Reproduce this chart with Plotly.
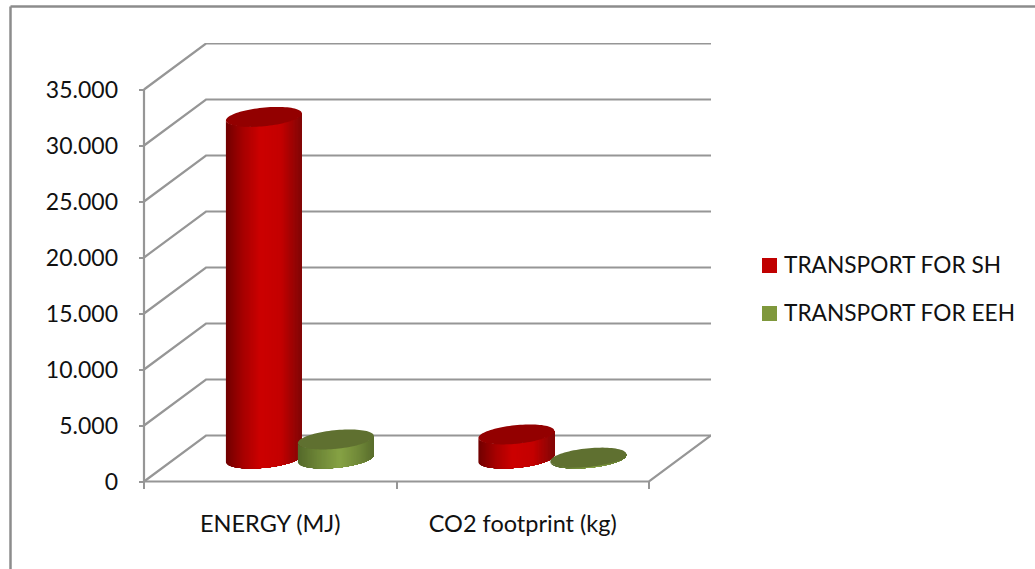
import numpy as np
import plotly.graph_objects as go

# Chart data
categories = ["ENERGY (MJ)", "CO2 footprint (kg)"]
series_names = ["TRANSPORT FOR SH", "TRANSPORT FOR EEH"]
series_colors = ["#c00000", "#7f983c"]
transport_sh = [30500, 2150]
transport_eeh = [1700, 80]
y_ticks = [0, 5000, 10000, 15000, 20000, 25000, 30000, 35000]
y_tick_labels = ["0", "5.000", "10.000", "15.000", "20.000", "25.000", "30.000", "35.000"]

# Scale of the axes, in pixels per axis unit
PX_PER_CAT = 252.5
PX_PER_VALUE = 0.0112

# Oblique projection of the pseudo-3D box, in axis units per unit of depth
DEPTH_X = 62 / PX_PER_CAT
DEPTH_Y = 46 / PX_PER_VALUE
GRID = "#969696"
FONT = "Lato"

# Plot area; it reaches a little past the zero lines so the box edges stay whole
W, H = 1035, 569
L, R, T, B = 139, 711, 43, 489
ZERO_X, ZERO_Y = 144, 481.5
X_RANGE = [(L - ZERO_X) / PX_PER_CAT, (R - ZERO_X) / PX_PER_CAT]
Y_RANGE = [(ZERO_Y - B) / PX_PER_VALUE, (ZERO_Y - T) / PX_PER_VALUE]


def project(cat, depth, value):
    return cat + depth * DEPTH_X, value + depth * DEPTH_Y


def mix(stops, f):
    pos = [s[0] for s in stops]
    rgb = [int(round(np.interp(f, pos, [s[1][i] for s in stops]))) for i in range(3)]
    return f"rgb({rgb[0]},{rgb[1]},{rgb[2]})"


RED_STOPS = [(0, (112, 0, 0)), (0.22, (165, 0, 0)), (0.45, (204, 0, 0)),
             (0.72, (196, 0, 0)), (1, (128, 6, 6))]
GREEN_STOPS = [(0, (84, 104, 42)), (0.25, (108, 132, 54)), (0.55, (134, 162, 68)),
               (0.8, (112, 136, 56)), (1, (88, 108, 44))]
RED_TOP = "#930000"
GREEN_TOP = "#5f7030"

# Cylinder footprint on the floor
RADIUS_CAT = 0.1406
RADIUS_DEPTH = 0.217
MID_DEPTH = 0.5
OFFSETS = [-0.148, 0.137]  # series offset from the centre of each category
PHASE = np.arctan2(DEPTH_X * RADIUS_DEPTH, RADIUS_CAT)

fig = go.Figure()


def add_line(xs, ys):
    fig.add_trace(go.Scatter(x=xs, y=ys, mode="lines", line=dict(color=GRID, width=2.2),
                             hoverinfo="skip", showlegend=False))


# Walls and floor of the box
for v in y_ticks:
    x0, y0 = project(0, 0, v)
    x1, y1 = project(0, 1, v)
    x2, y2 = project(2, 1, v)
    add_line([x0, x1, x2], [y0, y1, y2])
add_line([0, 0], [0, 35000])
add_line([0, 2, project(2, 1, 0)[0]], [0, 0, project(2, 1, 0)[1]])


def ring(cat, value, angles):
    u = RADIUS_CAT * np.cos(angles)
    v = RADIUS_DEPTH * np.sin(angles)
    return project(cat + u, MID_DEPTH + v, value)


def add_cylinder(cat, value, stops, top_color):
    # Painted left to right, each band covering everything to its right, so the
    # shading has no seams between bands.
    n = 60
    edges = np.sort(-np.arccos(np.linspace(-1, 1, n + 1)[::-1])) + PHASE
    for i in range(n):
        seg = np.linspace(edges[i], edges[-1], max(3, n - i + 1))
        bx, by = ring(cat, 0, seg)
        tx, ty = ring(cat, value, seg[::-1])
        fig.add_trace(go.Scatter(
            x=np.r_[bx, tx, bx[0]], y=np.r_[by, ty, by[0]], mode="none",
            fill="toself", fillcolor=mix(stops, (i + 0.5) / n),
            hoverinfo="skip", showlegend=False))
    cx, cy = ring(cat, value, np.linspace(0, 2 * np.pi, 90))
    fig.add_trace(go.Scatter(
        x=cx, y=cy, mode="none", fill="toself", fillcolor=top_color,
        hoverinfo="skip", showlegend=False))


for i in range(len(categories)):
    centre = i + 0.5
    add_cylinder(centre + OFFSETS[0], transport_sh[i], RED_STOPS, RED_TOP)
    add_cylinder(centre + OFFSETS[1], transport_eeh[i], GREEN_STOPS, GREEN_TOP)


def px(x):
    return (x - L) / (R - L)


def py(y):
    return (B - y) / (B - T)


frame = dict(type="line", xref="paper", yref="paper", line=dict(color="#8c8c8c", width=2.5))
shapes = [
    dict(frame, x0=px(10.5), x1=px(10.5), y0=py(6.5), y1=py(572)),
    dict(frame, x0=px(10.5), x1=px(1038), y0=py(6.5), y1=py(6.5)),
]

# Key to the two series, to the right of the box
annotations = []
for name, color, row_y in zip(series_names, series_colors, [265.5, 313.5]):
    shapes.append(dict(type="rect", xref="paper", yref="paper", fillcolor=color,
                       line=dict(width=0), x0=px(762), x1=px(777),
                       y0=py(row_y - 7.5), y1=py(row_y + 7.5)))
    annotations.append(dict(xref="paper", yref="paper", x=px(782), y=py(row_y - 1),
                            xanchor="left", yanchor="middle", showarrow=False, text=name,
                            font=dict(family=FONT, size=22.7, color="#111111")))

fig.update_layout(
    width=W, height=H,
    autosize=False,
    margin=dict(l=L, r=W - R, t=T, b=H - B, pad=0),
    paper_bgcolor="white", plot_bgcolor="white",
    font=dict(family=FONT, size=21, color="#111111"),
    hovermode=False,
    showlegend=False,
    xaxis=dict(
        range=X_RANGE, showgrid=False, zeroline=False, showline=False,
        tickmode="array", tickvals=[0.5, 1.5], ticktext=categories,
        ticks="", ticklabelstandoff=18,
        tickangle=0, tickfont=dict(family=FONT, size=23.5),
        minor=dict(tickmode="array", tickvals=[0, 1, 2], ticks="inside",
                   ticklen=7.5, tickwidth=2, tickcolor=GRID, showgrid=False),
    ),
    yaxis=dict(
        range=Y_RANGE, showgrid=False, zeroline=False, showline=False,
        tickmode="array", tickvals=y_ticks, ticktext=y_tick_labels,
        ticks="inside", ticklen=5, tickwidth=2, tickcolor=GRID,
        ticklabelstandoff=20, tickfont=dict(family=FONT, size=23),
    ),
    shapes=shapes,
    annotations=annotations,
)

fig.write_html("out.html", config=dict(displayModeBar=False))
